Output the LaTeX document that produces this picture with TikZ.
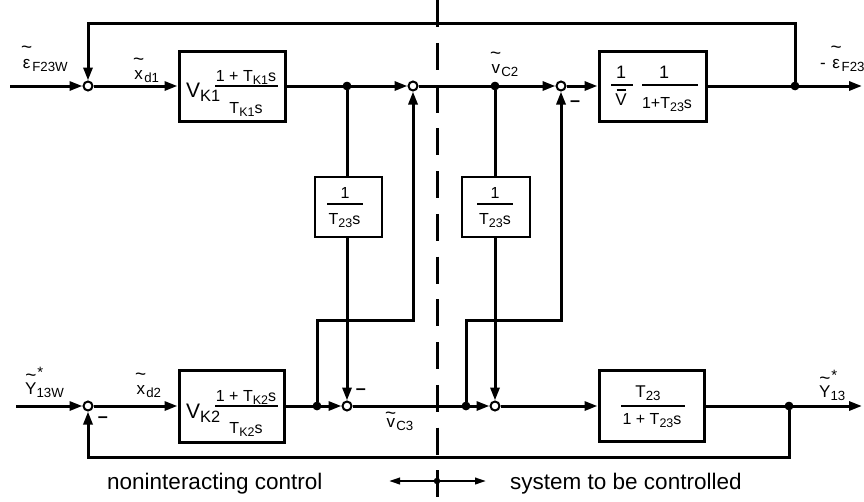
\documentclass[tikz,border=0pt]{standalone}
\usepackage{fontspec}
\setmainfont{Liberation Sans}
\usetikzlibrary{arrows.meta}
\makeatletter
\newcommand\sbs[1]{\raisebox{-0.2em}{\fontsize{\strip@pt\dimexpr\f@size pt*78/100\relax}{1}\selectfont #1}}
\makeatother
\newcommand\fs[1]{\fontsize{#1}{#1}\selectfont}
\newcommand\acc[3]{\leavevmode\vbox{\offinterlineskip\halign{\hfil##\hfil\cr#1\cr\noalign{\kern#2}#3\cr}}}
\newcommand\tl[1]{\acc{\fs{19}\char"7E}{5pt}{#1}}
\newcommand\ys{\acc{\fs{19}\char"7E\rlap{\kern1pt\raisebox{4pt}{\fs{15}*}}}{1pt}{Y}}
\begin{document}
\begin{tikzpicture}[x=1pt,y=-1pt,
  >={Triangle[length=13pt,width=9pt]},
  sig/.style={line width=3pt},
  blk/.style={draw, line width=3pt, inner sep=0},
  sblk/.style={draw, line width=2.2pt, inner sep=0},
  frac/.style={line width=2.4pt},
  sum/.style={circle, draw, line width=2pt, inner sep=0, minimum size=9pt, fill=white},
  dot/.style={circle, fill, inner sep=0, minimum size=8.5pt},
  lbl/.style={inner sep=0, anchor=base west},
  mns/.style={inner sep=0, font=\fs{18}\bfseries},
]
\useasboundingbox (0,0) rectangle (864,501);

% blocks
\node[blk, minimum width=106pt, minimum height=70pt] (K1) at (232,86) {};
\node[blk, minimum width=107pt, minimum height=70pt] (Vb) at (652.5,86) {};
\node[blk, minimum width=105pt, minimum height=72pt] (K2) at (231.5,406) {};
\node[blk, minimum width=105pt, minimum height=71pt] (Tb) at (651.5,406) {};
\node[sblk, minimum width=67pt, minimum height=60pt] (A) at (348.5,207) {};
\node[sblk, minimum width=68pt, minimum height=60pt] (B) at (496,207) {};

% block contents
\node[lbl] (K1v) at (186,97) {\fs{21}V\sbs{K1}};
\draw[frac] (215,86) -- (278,86);
\node[lbl,anchor=base] (K1n) at (246,81) {\fs{16}1 + T\sbs{K1}s};
\node[lbl,anchor=base] (K1d) at (246,113) {\fs{16}T\sbs{K1}s};

\node[lbl] (K2v) at (186,418) {\fs{21}V\sbs{K2}};
\draw[frac] (215,406) -- (278,406);
\node[lbl,anchor=base] (K2n) at (246,401) {\fs{16}1 + T\sbs{K2}s};
\node[lbl,anchor=base] (K2d) at (246,433) {\fs{16}T\sbs{K2}s};

\draw[frac] (611,85) -- (633,85);
\node[lbl,anchor=base] (Vn1) at (621,78) {\fs{18}1};
\node[lbl,anchor=base] (Vd1) at (621,105) {\fs{17}\acc{\rule{9pt}{2.4pt}}{2pt}{V}};
\draw[frac] (642,85) -- (698,85);
\node[lbl,anchor=base] (Vn2) at (664,78) {\fs{18}1};
\node[lbl,anchor=base] (Vd2) at (667,108) {\fs{16}1+T\sbs{23}s};

\node[lbl,anchor=base] (Tn) at (648,397) {\fs{17}T\sbs{23}};
\draw[frac] (621,406) -- (685,406);
\node[lbl,anchor=base] (Td) at (652,424) {\fs{16}1 + T\sbs{23}s};

\node[lbl,anchor=base] (An) at (345,198) {\fs{16}1};
\draw[frac] (327,204) -- (363,204);
\node[lbl,anchor=base] (Ad) at (344.5,224) {\fs{16}T\sbs{23}s};
\node[lbl,anchor=base] (Bn) at (495,198) {\fs{16}1};
\draw[frac] (477,204) -- (513,204);
\node[lbl,anchor=base] (Bd) at (495,224) {\fs{16}T\sbs{23}s};

% junctions and dots
\node[sum] (s1) at (88,86) {};
\node[sum] (s2) at (413,86) {};
\node[sum] (s3) at (561,86) {};
\node[sum] (s4) at (88,406) {};
\node[sum] (s5) at (347,406) {};
\node[sum] (s6) at (495,406) {};
\node[dot] (d1) at (347,86) {};
\node[dot] (d2) at (495,86) {};
\node[dot] (d3) at (795,86) {};
\node[dot] (d4) at (317,406) {};
\node[dot] (d5) at (466,406) {};
\node[dot] (d6) at (789,406) {};

\coordinate (in1) at (10,86);
\coordinate (out1) at (862,86);
\coordinate (in2) at (16,406);
\coordinate (out2) at (862,406);
\coordinate (ft) at (795,23);
\coordinate (fb) at (88,457);
\coordinate (c2) at (413,320);
\coordinate (c3) at (561,320);

% top row
\draw[sig,->] (in1) -- (s1);
\draw[sig,->] (s1) -- (K1);
\draw[sig,->] (K1) -- (s2);
\draw[sig,->] (s2) -- (s3);
\draw[sig,->] (s3) -- (Vb);
\draw[sig,->] (Vb) -- (out1);
\draw[sig,->] (d3) -- (ft) -| (s1);

% bottom row
\draw[sig,->] (in2) -- (s4);
\draw[sig,->] (s4) -- (K2);
\draw[sig,->] (K2) -- (s5);
\draw[sig,->] (s5) -- (s6);
\draw[sig,->] (s6) -- (Tb);
\draw[sig,->] (Tb) -- (out2);
\draw[sig,->] (d6) |- (fb) -- (s4);

% cross couplings
\draw[sig] (d1) -- (d1 |- A.north);
\draw[sig,->] (A.south -| s5) -- (s5);
\draw[sig] (d2) -- (d2 |- B.north);
\draw[sig,->] (B.south -| s6) -- (s6);
\draw[sig,->] (d4) |- (c2) -- (s2);
\draw[sig,->] (d5) |- (c3) -- (s3);

% redraw dots on top
\node[dot] at (d1) {};
\node[dot] at (d2) {};
\node[dot] at (d3) {};
\node[dot] at (d4) {};
\node[dot] at (d5) {};
\node[dot] at (d6) {};

% minus signs
\node[mns] (m1) at (575,104) {–};
\node[mns] (m2) at (103,420) {–};
\node[mns] (m3) at (361,392) {–};

% signal labels
\node[lbl] (leps) at (21,68) {\fs{17}\tl{ε}\sbs{F23W}};
\node[lbl] (lxd1) at (133,79) {\fs{17}\tl{x}\sbs{d1}};
\node[lbl] (lvc2) at (490,73) {\fs{17}\tl{v}\sbs{C2}};
\node[lbl] (leo) at (820,68) {\fs{17}- \tl{ε}\sbs{F23}};
\node[lbl] (ly13w) at (25,394) {\fs{17}\ys\sbs{13W}};
\node[lbl] (lxd2) at (135,394) {\fs{17}\tl{x}\sbs{d2}};
\node[lbl] (lvc3) at (385,427) {\fs{17}\acc{\fs{19}\char"7E}{-1pt}{v}\sbs{C3}};
\node[lbl] (ly13) at (819,397) {\fs{17}\ys\sbs{13}};

% separator
\coordinate (dt) at (437,0);
\coordinate (db) at (437,501);
\draw[line width=3pt, dash pattern=on 27pt off 15.75pt] (dt) -- (db);

% bottom legend
\coordinate (al) at (389,481);
\coordinate (ar) at (486,481);
\draw[line width=2.2pt, {Triangle[length=11pt,width=6.5pt]}-{Triangle[length=11pt,width=6.5pt]}] (al) -- (ar);
\node[dot, minimum size=6.5pt] (dm) at (437,481) {};
\node[lbl] (t1) at (107,489) {\fs{22.5}noninteracting control};
\node[lbl] (t2) at (510,489) {\fs{22.5}system to be controlled};
\end{tikzpicture}
\end{document}
